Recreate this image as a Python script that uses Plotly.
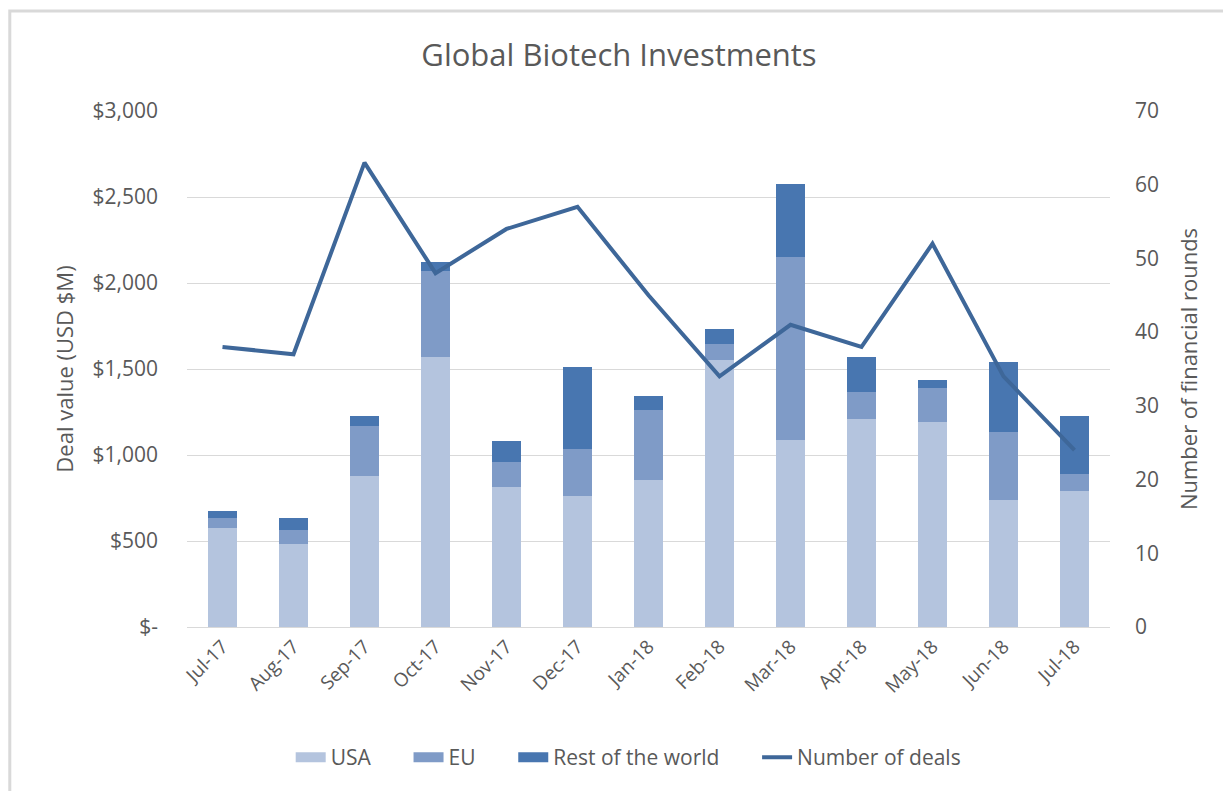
import plotly.graph_objects as go

months = ["Jul-17", "Aug-17", "Sep-17", "Oct-17", "Nov-17", "Dec-17", "Jan-18",
          "Feb-18", "Mar-18", "Apr-18", "May-18", "Jun-18", "Jul-18"]
usa = [576, 484, 876, 1571, 816, 763, 855, 1550, 1087, 1209, 1194, 740, 792]
eu = [58, 82, 294, 500, 141, 272, 407, 97, 1066, 157, 196, 391, 99]
row = [38, 68, 54, 51, 122, 474, 81, 87, 423, 204, 46, 410, 333]
deals = [38, 37, 63, 48, 54, 57, 45, 34, 41, 38, 52, 34, 24]

left_tickvals = [0, 500, 1000, 1500, 2000, 2500, 3000]
left_ticktext = ["$-", "$500", "$1,000", "$1,500", "$2,000", "$2,500", "$3,000"]
right_tickvals = [0, 10, 20, 30, 40, 50, 60, 70]

FONT = "Open Sans"
TXT = "#595959"
C_USA, C_EU, C_ROW, C_LINE = "#b4c4de", "#7f9bc7", "#4876b0", "#3e6799"
PAD = "\u00a0" * 6

fig = go.Figure()
fig.add_trace(go.Bar(x=months, y=usa, name="USA", showlegend=False,
                     marker=dict(color=C_USA, line=dict(width=0))))
fig.add_trace(go.Bar(x=months, y=eu, name="EU", showlegend=False,
                     marker=dict(color=C_EU, line=dict(width=0))))
fig.add_trace(go.Bar(x=months, y=row, name="Rest of the world", showlegend=False,
                     marker=dict(color=C_ROW, line=dict(width=0))))
fig.add_trace(go.Scatter(x=months, y=deals, name="Number of deals", mode="lines", showlegend=False,
                         line=dict(color=C_LINE, width=4), yaxis="y2"))

# legend entries (wide swatches like the original)
for nm, col, w in [("USA" + PAD, C_USA, 15), ("EU" + PAD, C_EU, 15),
                   ("Rest of the world" + PAD, C_ROW, 15), ("Number of deals", C_LINE, 4)]:
    fig.add_trace(go.Scatter(x=[None], y=[None], name=nm, mode="lines",
                             line=dict(color=col, width=w), showlegend=True))

fig.update_layout(
    width=1223, height=783,
    barmode="stack", bargap=0.6,
    paper_bgcolor="white", plot_bgcolor="white",
    margin=dict(l=179, r=120.5, t=103.3, b=163.7, autoexpand=False),
    font=dict(family=FONT, color=TXT, size=20),
    title=dict(text="Global Biotech Investments", x=0.4996, xref="container", xanchor="center",
               y=1 - 47 / 783, yref="container", yanchor="middle",
               font=dict(family=FONT, size=31, color=TXT)),
    xaxis=dict(type="category", tickangle=-45, showgrid=False, showline=True,
               linecolor="#d9d9d9", linewidth=1, ticks="", tickfont=dict(size=19, color=TXT)),
    yaxis=dict(range=[0, 3000], tickvals=left_tickvals, ticktext=left_ticktext,
               showgrid=True, gridcolor="#d9d9d9", gridwidth=1, zeroline=False,
               ticks="", ticklabelstandoff=28, tickfont=dict(size=21, color=TXT),
               title=dict(text="Deal value (USD $M)", font=dict(size=22, color=TXT), standoff=12)),
    yaxis2=dict(range=[0, 70], tickvals=right_tickvals, overlaying="y", side="right",
                showgrid=False, zeroline=False, ticks="", ticklabelstandoff=24,
                tickfont=dict(size=21, color=TXT),
                title=dict(text="Number of financial rounds", font=dict(size=22, color=TXT), standoff=23)),
    legend=dict(orientation="h", x=0.478, xanchor="center", y=-0.253, yanchor="middle",
                font=dict(size=21, color=TXT), traceorder="normal", itemwidth=30),
    shapes=[dict(type="rect", xref="paper", yref="paper", x0=-0.192, x1=1.2, y0=-0.4, y1=1.194,
                 line=dict(color="#d9d9d9", width=3), fillcolor="rgba(0,0,0,0)", layer="below")],
)

fig.write_html("out.html")
